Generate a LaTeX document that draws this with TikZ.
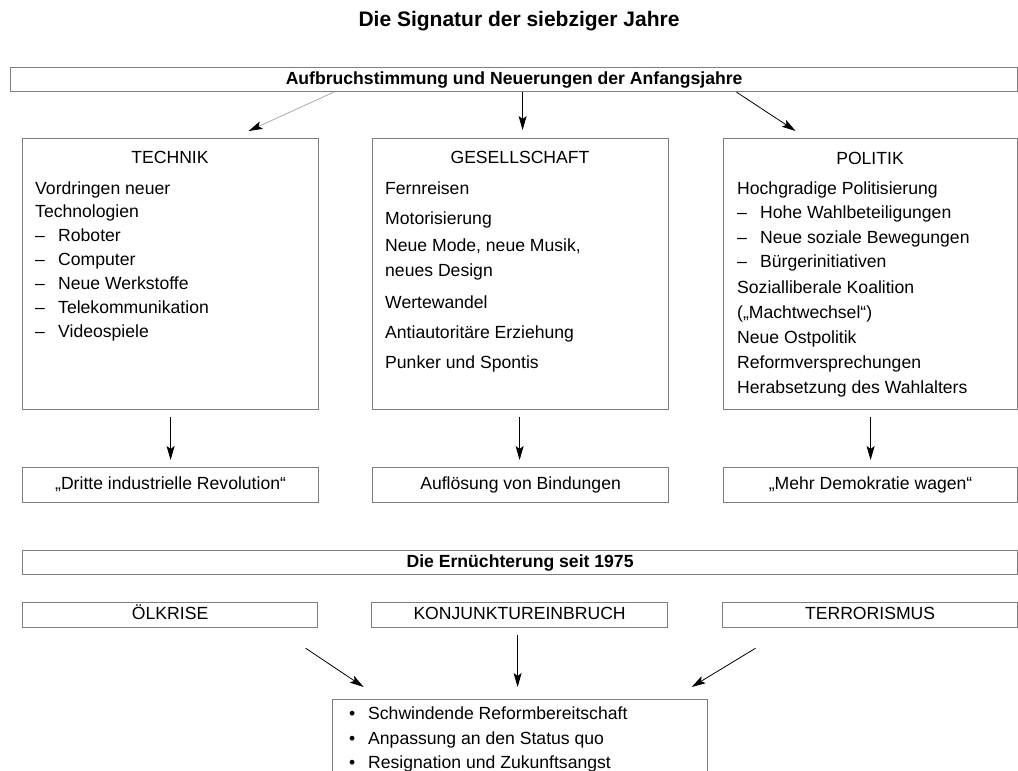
\documentclass[tikz,border=0pt]{standalone}
\usepackage{fontspec}
\setmainfont{Liberation Sans}
\usetikzlibrary{arrows.meta}
\definecolor{bordergray}{RGB}{125,125,125}
\definecolor{lightarrow}{RGB}{170,170,170}
\begin{document}
\begin{tikzpicture}[x=1pt,y=-1pt,
  box/.style={draw=bordergray, line width=1.2pt, inner sep=0pt, anchor=north west,
    text height=12.6pt, text depth=3.7pt,
    font=\fontsize{17.6}{21}\selectfont},
  boldbox/.style={box, font=\bfseries\fontsize{17.6}{21}\selectfont},
  txt/.style={anchor=base west, inner sep=0pt, font=\fontsize{17.6}{21}\selectfont},
  head/.style={anchor=base, inner sep=0pt, font=\fontsize{17.6}{21}\selectfont},
  arr/.style={line width=0.8pt, -{Stealth[length=14pt,width=8pt,inset=3pt]}},
  grayarr/.style={line width=0.8pt, draw=lightarrow, -{Stealth[length=14pt,width=8pt,inset=3pt,color=black]}}
]
\useasboundingbox (0,0) rectangle (1018,771);
\clip (0,0) rectangle (1018,771);

% title
\node[anchor=base, inner sep=0pt, font=\bfseries\fontsize{21}{25}\selectfont] (title) at (519,27) {Die Signatur der siebziger Jahre};

% top bar
\node[boldbox, minimum width=1007pt, minimum height=24pt] (top) at (10,67) {Aufbruchstimmung und Neuerungen der Anfangsjahre};

% three main boxes
\node[box, minimum width=296pt, minimum height=271pt] (technik) at (22,138) {};
\node[box, minimum width=296pt, minimum height=271pt] (gesell) at (372,138) {};
\node[box, minimum width=294pt, minimum height=271pt] (politik) at (723,138) {};

% TECHNIK content
\node[head] (th) at (170,163) {TECHNIK};
\node[txt] (t1) at (35,194) {Vordringen neuer};
\node[txt] (t2) at (35,217) {Technologien};
\node[txt] (t3d) at (35,241) {–};
\node[txt] (t3) at (58,241) {Roboter};
\node[txt] (t4d) at (35,265) {–};
\node[txt] (t4) at (58,265) {Computer};
\node[txt] (t5d) at (35,289) {–};
\node[txt] (t5) at (58,289) {Neue Werkstoffe};
\node[txt] (t6d) at (35,313) {–};
\node[txt] (t6) at (58,313) {Telekommunikation};
\node[txt] (t7d) at (35,337) {–};
\node[txt] (t7) at (58,337) {Videospiele};

% GESELLSCHAFT content
\node[head] (gh) at (520,163) {GESELLSCHAFT};
\node[txt] (g1) at (385,194) {Fernreisen};
\node[txt] (g2) at (385,224) {Motorisierung};
\node[txt] (g3) at (385,251) {Neue Mode, neue Musik,};
\node[txt] (g4) at (385,276) {neues Design};
\node[txt] (g5) at (385,308) {Wertewandel};
\node[txt] (g6) at (385,338) {Antiautoritäre Erziehung};
\node[txt] (g7) at (385,368) {Punker und Spontis};

% POLITIK content
\node[head] (ph) at (870,164) {POLITIK};
\node[txt] (p1) at (737,194) {Hochgradige Politisierung};
\node[txt] (p2d) at (737,218) {–};
\node[txt] (p2) at (760,218) {Hohe Wahlbeteiligungen};
\node[txt] (p3d) at (737,243) {–};
\node[txt] (p3) at (760,243) {Neue soziale Bewegungen};
\node[txt] (p4d) at (737,267) {–};
\node[txt] (p4) at (760,267) {Bürgerinitiativen};
\node[txt] (p5) at (737,293) {Sozialliberale Koalition};
\node[txt] (p6) at (737,318) {(„Machtwechsel“)};
\node[txt] (p7) at (737,343) {Neue Ostpolitik};
\node[txt] (p8) at (737,368) {Reformversprechungen};
\node[txt] (p9) at (737,393) {Herabsetzung des Wahlalters};

% result boxes
\node[box, minimum width=296pt, minimum height=35pt] (r1) at (22,467) {„Dritte industrielle Revolution“};
\node[box, minimum width=296pt, minimum height=35pt] (r2) at (372,467) {Auflösung von Bindungen};
\node[box, minimum width=294pt, minimum height=35pt] (r3) at (723,467) {„Mehr Demokratie wagen“};

% arrows from top bar
\draw[grayarr] ([xshift=-180.5pt]top.south) -- ([xshift=78pt,yshift=7pt]technik.north);
\draw[arr] ([xshift=8.5pt]top.south) -- ([xshift=2pt,yshift=8pt]gesell.north);
\draw[arr] ([xshift=222.5pt]top.south) -- ([xshift=-75pt,yshift=7pt]politik.north);

% arrows down
\draw[arr, shorten <=7pt, shorten >=7pt] (technik.south) -- (r1.north);
\draw[arr, shorten <=7pt, shorten >=7pt] ([xshift=-1pt]gesell.south) -- ([xshift=-1pt]r2.north);
\draw[arr, shorten <=7pt, shorten >=7pt] (politik.south) -- (r3.north);

% second part
\node[boldbox, minimum width=995pt, minimum height=24pt] (ern) at (22,550) {Die Ernüchterung seit 1975};
\node[box, minimum width=295pt, minimum height=25pt] (oel) at (22,602) {ÖLKRISE};
\node[box, minimum width=296pt, minimum height=25pt] (konj) at (371,602) {KONJUNKTUREINBRUCH};
\node[box, minimum width=295pt, minimum height=25pt] (terr) at (722,602) {TERRORISMUS};

\node[box, minimum width=375pt, minimum height=120pt] (res) at (332,699) {};
\node[txt] (b1d) at (349,719) {•};
\node[txt] (b1) at (368,719) {Schwindende Reformbereitschaft};
\node[txt] (b2d) at (349,744) {•};
\node[txt] (b2) at (368,744) {Anpassung an den Status quo};
\node[txt] (b3d) at (349,768) {•};
\node[txt] (b3) at (368,768) {Resignation und Zukunftsangst};

\draw[arr] ([xshift=135.5pt,yshift=-20pt]oel.south) -- ([xshift=-156.5pt,yshift=12pt]res.north);
\draw[arr] ([xshift=-2pt,yshift=-7pt]konj.south) -- ([xshift=-2.5pt,yshift=12pt]res.north);
\draw[arr] ([xshift=-114.5pt,yshift=-20pt]terr.south) -- ([xshift=171.5pt,yshift=12pt]res.north);
\end{tikzpicture}
\end{document}
